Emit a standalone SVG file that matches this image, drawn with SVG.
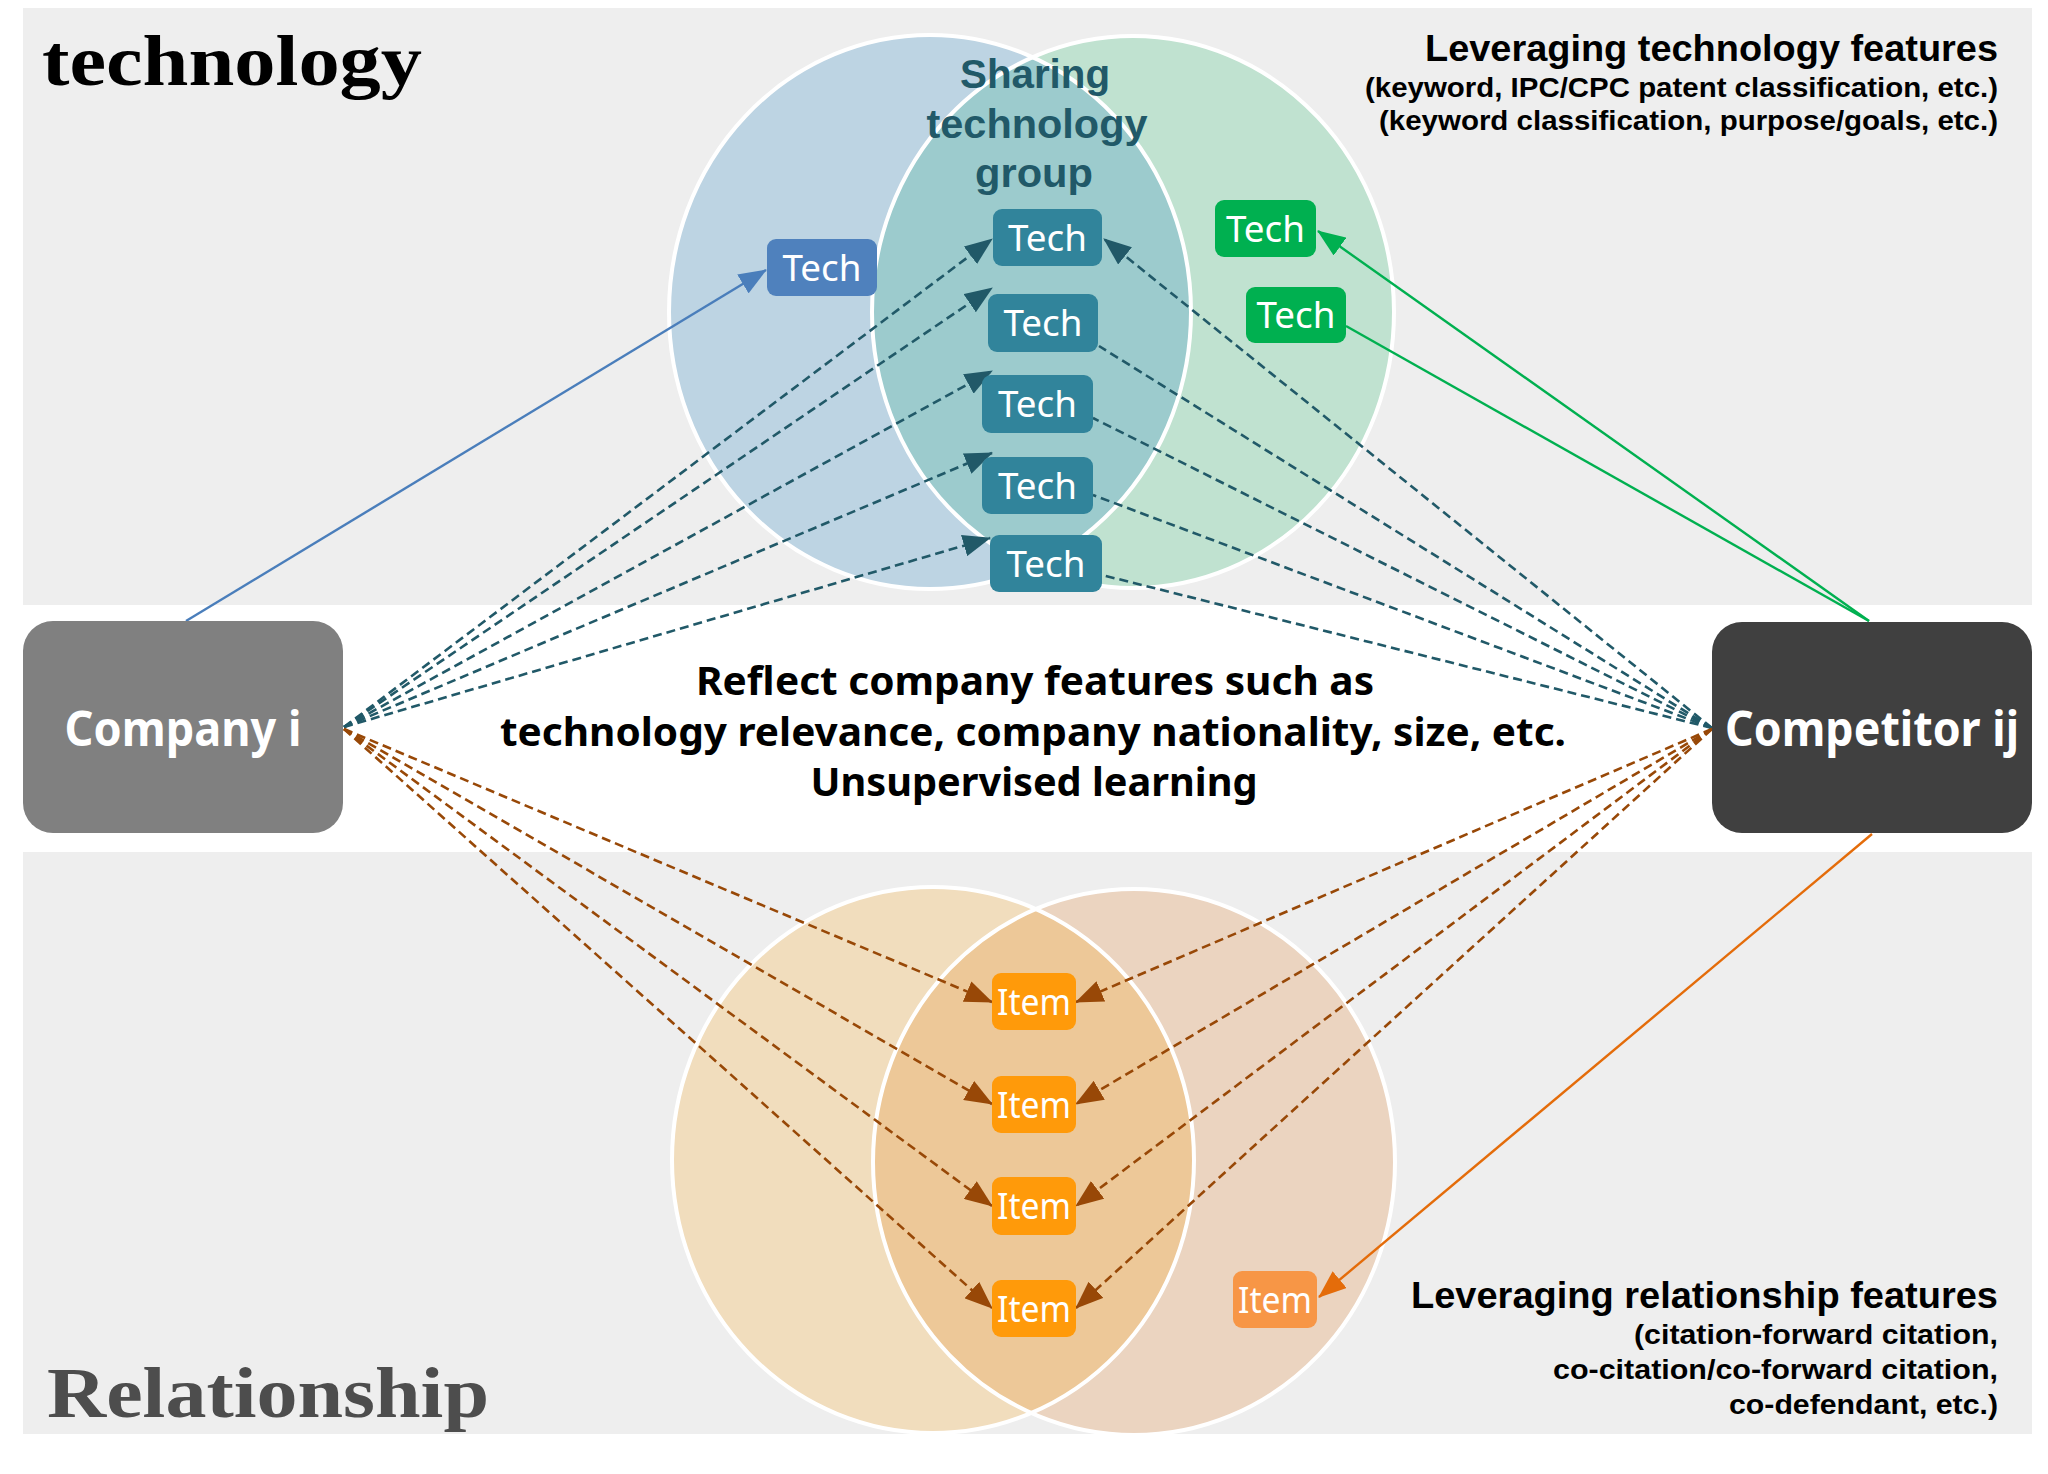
<svg xmlns="http://www.w3.org/2000/svg" width="2048" height="1474" viewBox="0 0 2048 1474">
<style>
.panel{fill:#eeeeee}
.sans{font-family:"Noto Sans","Open Sans","Liberation Sans",sans-serif;font-weight:700}
.lsans{font-family:"Liberation Sans","Noto Sans",sans-serif;font-weight:700}
.serif{font-family:"Liberation Serif","DejaVu Serif",serif;font-weight:700}
.ring{fill:none;stroke:#ffffff;stroke-width:4}
.box text{font-family:"Noto Sans","Open Sans","Liberation Sans",sans-serif;font-weight:400;font-size:37px;fill:#ffffff;text-anchor:middle}
.tdash{fill:none;stroke:#215968;stroke-width:2.6;stroke-dasharray:9 5}
.bdash{fill:none;stroke:#984807;stroke-width:2.6;stroke-dasharray:9 5}
.solid{fill:none;stroke-width:2.4}
</style>
<defs>
<marker id="aTeal" markerUnits="userSpaceOnUse" markerWidth="28" markerHeight="22" refX="27" refY="11" orient="auto"><path d="M0,0 L28,11 L0,22 z" fill="#215968"/></marker>
<marker id="aBrown" markerUnits="userSpaceOnUse" markerWidth="28" markerHeight="22" refX="27" refY="11" orient="auto"><path d="M0,0 L28,11 L0,22 z" fill="#984807"/></marker>
<marker id="aBlue" markerUnits="userSpaceOnUse" markerWidth="28" markerHeight="22" refX="27" refY="11" orient="auto"><path d="M0,0 L28,11 L0,22 z" fill="#4a7ebb"/></marker>
<marker id="aGreen" markerUnits="userSpaceOnUse" markerWidth="28" markerHeight="22" refX="27" refY="11" orient="auto"><path d="M0,0 L28,11 L0,22 z" fill="#00b050"/></marker>
<marker id="aOrange" markerUnits="userSpaceOnUse" markerWidth="28" markerHeight="22" refX="27" refY="11" orient="auto"><path d="M0,0 L28,11 L0,22 z" fill="#e46c0a"/></marker>
<clipPath id="clipBlue"><ellipse cx="930" cy="312" rx="261" ry="277"/></clipPath>
<clipPath id="clipOrangeL"><ellipse cx="933" cy="1160" rx="261" ry="273"/></clipPath>
</defs>
<rect width="2048" height="1474" fill="#ffffff"/>

<g id="backgrounds">
<rect class="panel" x="23" y="8" width="2009" height="597"/>
<rect class="panel" x="23" y="852" width="2009" height="582"/>
</g>

<g id="tech-venn">
<ellipse cx="930" cy="312" rx="261" ry="277" fill="#bdd4e3"/>
<ellipse cx="1133" cy="312" rx="261" ry="276" fill="#c0e2d0"/>
<ellipse cx="1133" cy="312" rx="261" ry="276" fill="#9ccbcd" clip-path="url(#clipBlue)"/>
<ellipse class="ring" cx="930" cy="312" rx="261" ry="277"/>
<ellipse class="ring" cx="1133" cy="312" rx="261" ry="276"/>
</g>

<g id="relation-venn">
<ellipse cx="933" cy="1160" rx="261" ry="273" fill="#f1ddbd"/>
<ellipse cx="1134" cy="1162" rx="261" ry="273" fill="#ebd4c0"/>
<ellipse cx="1134" cy="1162" rx="261" ry="273" fill="#edc898" clip-path="url(#clipOrangeL)"/>
<ellipse class="ring" cx="933" cy="1160" rx="261" ry="273"/>
<ellipse class="ring" cx="1134" cy="1162" rx="261" ry="273"/>
</g>

<g id="labels">
<text class="serif" x="42" y="85" font-size="72" textLength="380" lengthAdjust="spacingAndGlyphs" fill="#000000">technology</text>
<text class="serif" x="47" y="1417" font-size="72" textLength="442" lengthAdjust="spacingAndGlyphs" fill="#4d4d4d">Relationship</text>
<g class="lsans" fill="#215968" font-size="40" text-anchor="middle">
<text x="1035" y="88" textLength="150" lengthAdjust="spacingAndGlyphs">Sharing</text>
<text x="1037" y="138" textLength="221" lengthAdjust="spacingAndGlyphs">technology</text>
<text x="1034" y="187" textLength="118" lengthAdjust="spacingAndGlyphs">group</text>
</g>
<g class="lsans" fill="#000000" text-anchor="end">
<text x="1998" y="61" font-size="36" textLength="573" lengthAdjust="spacingAndGlyphs">Leveraging technology features</text>
<text x="1998" y="97" font-size="28" textLength="633" lengthAdjust="spacingAndGlyphs">(keyword, IPC/CPC patent classification, etc.)</text>
<text x="1998" y="130" font-size="28" textLength="619" lengthAdjust="spacingAndGlyphs">(keyword classification, purpose/goals, etc.)</text>
<text x="1998" y="1308" font-size="36" textLength="587" lengthAdjust="spacingAndGlyphs">Leveraging relationship features</text>
<text x="1998" y="1344" font-size="28" textLength="364" lengthAdjust="spacingAndGlyphs">(citation-forward citation,</text>
<text x="1998" y="1379" font-size="28" textLength="445" lengthAdjust="spacingAndGlyphs">co-citation/co-forward citation,</text>
<text x="1998" y="1414" font-size="28" textLength="269" lengthAdjust="spacingAndGlyphs">co-defendant, etc.)</text>
</g>
<g class="sans" fill="#000000" font-size="40" text-anchor="middle">
<text x="1035" y="695" textLength="678" lengthAdjust="spacingAndGlyphs">Reflect company features such as</text>
<text x="1033" y="746" textLength="1066" lengthAdjust="spacingAndGlyphs">technology relevance, company nationality, size, etc.</text>
<text x="1034" y="796" textLength="447" lengthAdjust="spacingAndGlyphs">Unsupervised learning</text>
</g>
</g>

<g id="connectors">
<line class="solid" stroke="#4a7ebb" x1="186" y1="621" x2="766" y2="270" marker-end="url(#aBlue)"/>
<line class="solid" stroke="#00b050" x1="1869" y1="621" x2="1318" y2="231" marker-end="url(#aGreen)"/>
<line class="solid" stroke="#00b050" x1="1869" y1="621" x2="1346" y2="326"/>
<line class="solid" stroke="#e46c0a" x1="1872" y1="834" x2="1319" y2="1297" marker-end="url(#aOrange)"/>

<line class="tdash" x1="344" y1="727" x2="992" y2="239" marker-end="url(#aTeal)"/>
<line class="tdash" x1="344" y1="727" x2="992" y2="288" marker-end="url(#aTeal)"/>
<line class="tdash" x1="344" y1="727" x2="992" y2="371" marker-end="url(#aTeal)"/>
<line class="tdash" x1="344" y1="727" x2="992" y2="453" marker-end="url(#aTeal)"/>
<line class="tdash" x1="344" y1="727" x2="990" y2="538" marker-end="url(#aTeal)"/>

<line class="tdash" x1="1712" y1="728" x2="1104" y2="239" marker-end="url(#aTeal)"/>
<line class="tdash" x1="1712" y1="728" x2="1099" y2="346"/>
<line class="tdash" x1="1712" y1="728" x2="1093" y2="418"/>
<line class="tdash" x1="1712" y1="728" x2="1093" y2="495"/>
<line class="tdash" x1="1712" y1="728" x2="1102" y2="575"/>

<line class="bdash" x1="344" y1="729" x2="992" y2="1002" marker-end="url(#aBrown)"/>
<line class="bdash" x1="344" y1="729" x2="992" y2="1104" marker-end="url(#aBrown)"/>
<line class="bdash" x1="344" y1="729" x2="992" y2="1206" marker-end="url(#aBrown)"/>
<line class="bdash" x1="344" y1="729" x2="992" y2="1308" marker-end="url(#aBrown)"/>

<line class="bdash" x1="1712" y1="729" x2="1076" y2="1002" marker-end="url(#aBrown)"/>
<line class="bdash" x1="1712" y1="729" x2="1076" y2="1104" marker-end="url(#aBrown)"/>
<line class="bdash" x1="1712" y1="729" x2="1076" y2="1206" marker-end="url(#aBrown)"/>
<line class="bdash" x1="1712" y1="729" x2="1076" y2="1308" marker-end="url(#aBrown)"/>
</g>

<g id="company-i">
<rect x="23" y="621" width="320" height="212" rx="30" fill="#808080"/>
<text class="sans" x="183" y="746" font-size="48" fill="#ffffff" text-anchor="middle" textLength="237" lengthAdjust="spacingAndGlyphs">Company i</text>
</g>
<g id="competitor-ij">
<rect x="1712" y="622" width="320" height="211" rx="30" fill="#404040"/>
<text class="sans" x="1872" y="746" font-size="48" fill="#ffffff" text-anchor="middle" textLength="294" lengthAdjust="spacingAndGlyphs">Competitor ij</text>
</g>

<g id="tech-blue" class="box"><rect x="767" y="239" width="110" height="57" rx="9" fill="#4f81bd"/><text x="822" y="281" textLength="79" lengthAdjust="spacingAndGlyphs">Tech</text></g>
<g id="tech-shared-1" class="box"><rect x="993" y="209" width="109" height="57" rx="9" fill="#31849b"/><text x="1047.5" y="251" textLength="79" lengthAdjust="spacingAndGlyphs">Tech</text></g>
<g id="tech-shared-2" class="box"><rect x="988" y="294" width="110" height="58" rx="9" fill="#31849b"/><text x="1043" y="336" textLength="79" lengthAdjust="spacingAndGlyphs">Tech</text></g>
<g id="tech-shared-3" class="box"><rect x="982" y="375" width="111" height="58" rx="9" fill="#31849b"/><text x="1037.5" y="417" textLength="79" lengthAdjust="spacingAndGlyphs">Tech</text></g>
<g id="tech-shared-4" class="box"><rect x="982" y="457" width="111" height="57" rx="9" fill="#31849b"/><text x="1037.5" y="499" textLength="79" lengthAdjust="spacingAndGlyphs">Tech</text></g>
<g id="tech-shared-5" class="box"><rect x="990" y="535" width="112" height="57" rx="9" fill="#31849b"/><text x="1046" y="577" textLength="79" lengthAdjust="spacingAndGlyphs">Tech</text></g>
<g id="tech-green-1" class="box"><rect x="1215" y="200" width="101" height="57" rx="9" fill="#00b050"/><text x="1265.5" y="242" textLength="79" lengthAdjust="spacingAndGlyphs">Tech</text></g>
<g id="tech-green-2" class="box"><rect x="1246" y="287" width="100" height="56" rx="9" fill="#00b050"/><text x="1296" y="328" textLength="79" lengthAdjust="spacingAndGlyphs">Tech</text></g>

<g id="item-1" class="box"><rect x="992" y="973" width="84" height="57" rx="9" fill="#ff9a0a"/><text x="1034" y="1015" textLength="74" lengthAdjust="spacingAndGlyphs">Item</text></g>
<g id="item-2" class="box"><rect x="992" y="1076" width="84" height="57" rx="9" fill="#ff9a0a"/><text x="1034" y="1118" textLength="74" lengthAdjust="spacingAndGlyphs">Item</text></g>
<g id="item-3" class="box"><rect x="992" y="1177" width="84" height="58" rx="9" fill="#ff9a0a"/><text x="1034" y="1219" textLength="74" lengthAdjust="spacingAndGlyphs">Item</text></g>
<g id="item-4" class="box"><rect x="992" y="1280" width="84" height="57" rx="9" fill="#ff9a0a"/><text x="1034" y="1322" textLength="74" lengthAdjust="spacingAndGlyphs">Item</text></g>
<g id="item-right" class="box"><rect x="1233" y="1271" width="84" height="57" rx="9" fill="#f79646"/><text x="1275" y="1313" textLength="74" lengthAdjust="spacingAndGlyphs">Item</text></g>
</svg>
